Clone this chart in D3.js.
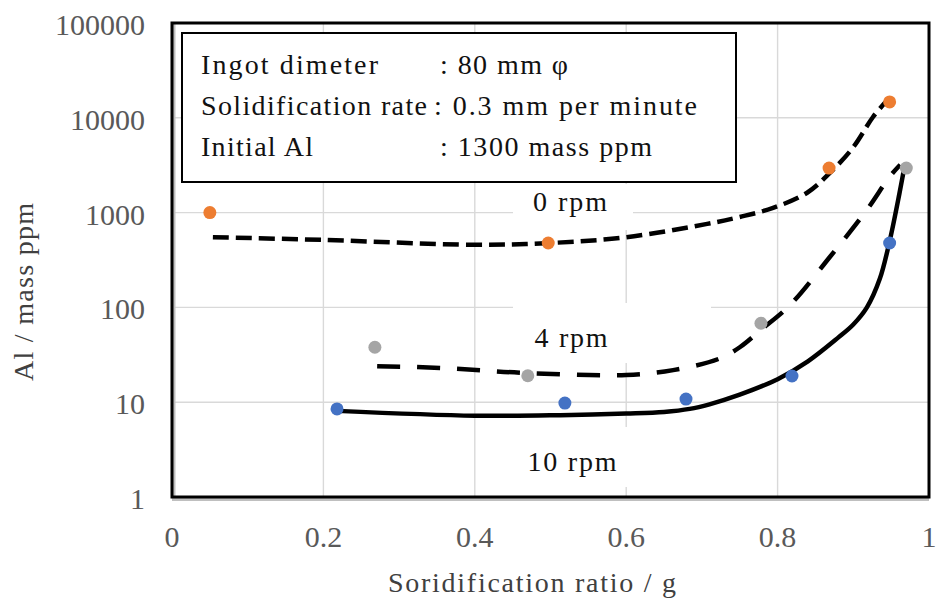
<!DOCTYPE html>
<html><head><meta charset="utf-8">
<script src="https://cdn.jsdelivr.net/npm/d3@7/dist/d3.min.js"></script>
<style>
html,body{margin:0;padding:0;background:#fff;}
text{font-family:"Liberation Serif","DejaVu Serif",serif;}
</style></head>
<body>
<svg id="chart" width="940" height="604"></svg>
<script>
// ---- data ----
const xTicks = [0, 0.2, 0.4, 0.6, 0.8, 1];
const xTickLabels = ["0", "0.2", "0.4", "0.6", "0.8", "1"];
const yTicks = [1, 10, 100, 1000, 10000, 100000];
const yTickLabels = ["1", "10", "100", "1000", "10000", "100000"];

// measured points
const rpm0Points = [[0.05, 1000], [0.497, 478], [0.868, 2950], [0.948, 14700]];
const rpm4Points = [[0.268, 38], [0.47, 19], [0.778, 68], [0.97, 2950]];
const rpm10Points = [[0.218, 8.5], [0.519, 9.8], [0.679, 10.8], [0.819, 18.9], [0.948, 478]];

// fitted curves
const rpm0Curve = [[0.054, 550], [0.2, 515], [0.4, 458], [0.5, 478], [0.6, 550], [0.707, 760], [0.75, 900], [0.794, 1120], [0.839, 1620], [0.869, 2620], [0.9, 4900], [0.926, 10200], [0.945, 15400]];
const rpm4Curve = [[0.271, 24], [0.354, 23], [0.469, 20.3], [0.6, 19.4], [0.662, 21.8], [0.724, 29], [0.75, 38], [0.778, 58], [0.816, 105], [0.869, 340], [0.918, 1070], [0.948, 2390], [0.962, 3200]];
const rpm10Curve = [[0.218, 8.1], [0.4, 7.2], [0.513, 7.3], [0.6, 7.6], [0.65, 7.9], [0.684, 8.5], [0.71, 9.5], [0.75, 12], [0.8, 17.5], [0.84, 27], [0.88, 48], [0.9, 66], [0.918, 100], [0.935, 200], [0.948, 500], [0.961, 1600], [0.968, 3180]];

const infoLabels = ["Ingot dimeter", "Solidification rate", "Initial Al"];
const infoValues = [": 80 mm φ", ": 0.3 mm per minute", ": 1300 mass ppm"];
const seriesLabels = ["0 rpm", "4 rpm", "10 rpm"];
const xTitle = "Soridification ratio / g";
const yTitle = "Al / mass ppm";

// ---- layout ----
const svg = d3.select("#chart");
const L = 172, R = 929, T = 23, B = 497;
const x = d3.scaleLinear().domain([0, 1]).range([L, R]);
const y = d3.scaleLog().domain([1, 100000]).range([B, T]);

// gridlines
const grid = svg.append("g");
grid.selectAll("line.h").data(yTicks.slice(1, -1)).join("line")
  .attr("x1", L).attr("x2", R).attr("y1", d => y(d)).attr("y2", d => y(d))
  .attr("stroke", "#d9d9d9").attr("stroke-width", 1.4);
grid.selectAll("line.v").data(xTicks.slice(1, -1)).join("line")
  .attr("y1", T).attr("y2", B).attr("x1", d => x(d)).attr("x2", d => x(d))
  .attr("stroke", "#d9d9d9").attr("stroke-width", 1.4);

// white label boxes (hide gridlines)
const labelBoxes = [
  {x: 513, y: 184, w: 120, h: 46},
  {x: 513, y: 303, w: 198, h: 60},
  {x: 513, y: 427, w: 120, h: 60}
];
svg.append("g").selectAll("rect").data(labelBoxes).join("rect")
  .attr("x", d => d.x).attr("y", d => d.y).attr("width", d => d.w).attr("height", d => d.h)
  .attr("fill", "#fff");

// curves
const line = d3.line().x(d => x(d[0])).y(d => y(d[1])).curve(d3.curveCatmullRom.alpha(0.5));
const curves = [
  {data: rpm0Curve, dash: "16,7"},
  {data: rpm4Curve, dash: "23,17"},
  {data: rpm10Curve, dash: null}
];
svg.append("g").selectAll("path").data(curves).join("path")
  .attr("d", d => line(d.data))
  .attr("fill", "none").attr("stroke", "#000").attr("stroke-width", 4.5)
  .attr("stroke-dasharray", d => d.dash);

// points
const pointSets = [
  {data: rpm0Points, color: "#ED7D31"},
  {data: rpm4Points, color: "#A5A5A5"},
  {data: rpm10Points, color: "#4472C4"}
];
pointSets.forEach(s => {
  svg.append("g").selectAll("circle").data(s.data).join("circle")
    .attr("cx", d => x(d[0])).attr("cy", d => y(d[1])).attr("r", 6.5)
    .attr("fill", s.color);
});

// frame
svg.append("line").attr("x1", 174).attr("x2", 174).attr("y1", T).attr("y2", B + 3)
  .attr("stroke", "#bfbfbf").attr("stroke-width", 3);
svg.append("line").attr("x1", L).attr("x2", R).attr("y1", B + 2.5).attr("y2", B + 2.5)
  .attr("stroke", "#bfbfbf").attr("stroke-width", 3);
svg.append("rect").attr("x", L).attr("y", T).attr("width", R - L).attr("height", B - T)
  .attr("fill", "none").attr("stroke", "#000").attr("stroke-width", 3);

// tick labels
svg.append("g").selectAll("text").data(yTicks).join("text")
  .attr("x", 145).attr("y", d => y(d) + 12).attr("text-anchor", "end")
  .attr("font-size", 30).attr("fill", "#595959")
  .text((d, i) => yTickLabels[i]);
svg.append("g").selectAll("text").data(xTicks).join("text")
  .attr("x", d => x(d)).attr("y", 547).attr("text-anchor", "middle")
  .attr("font-size", 30).attr("fill", "#595959")
  .text((d, i) => xTickLabels[i]);

// axis titles
svg.append("text").attr("x", 532).attr("y", 592).attr("text-anchor", "middle")
  .attr("font-size", 28).attr("fill", "#404040")
  .attr("textLength", 288).attr("lengthAdjust", "spacing").text(xTitle);
svg.append("text").attr("transform", "translate(33,292) rotate(-90)").attr("text-anchor", "middle")
  .attr("font-size", 28).attr("fill", "#404040")
  .attr("textLength", 178).attr("lengthAdjust", "spacing").text(yTitle);

// info box
svg.append("rect").attr("x", 182).attr("y", 33).attr("width", 554).attr("height", 149)
  .attr("fill", "#fff").attr("stroke", "#000").attr("stroke-width", 2);
const infoBase = [74, 115, 156];
const labelW = [177, 226, 112];
const valueX = [440, 434, 440];
const valueW = [128, 263, 212];
svg.append("g").selectAll("text").data(infoLabels).join("text")
  .attr("x", 201).attr("y", (d, i) => infoBase[i]).attr("font-size", 28).attr("fill", "#111")
  .attr("textLength", (d, i) => labelW[i]).attr("lengthAdjust", "spacing").text(d => d);
svg.append("g").selectAll("text").data(infoValues).join("text")
  .attr("x", (d, i) => valueX[i]).attr("y", (d, i) => infoBase[i]).attr("font-size", 28).attr("fill", "#111")
  .attr("textLength", (d, i) => valueW[i]).attr("lengthAdjust", "spacing").text(d => d);

// series labels
const seriesLabelPos = [[570, 211], [571, 347], [572, 471]];
const seriesLabelW = [74, 73, 89];
svg.append("g").selectAll("text").data(seriesLabels).join("text")
  .attr("x", (d, i) => seriesLabelPos[i][0] - seriesLabelW[i] / 2).attr("y", (d, i) => seriesLabelPos[i][1])
  .attr("font-size", 28).attr("fill", "#111")
  .attr("textLength", (d, i) => seriesLabelW[i]).attr("lengthAdjust", "spacing").text(d => d);
</script>
</body></html>
